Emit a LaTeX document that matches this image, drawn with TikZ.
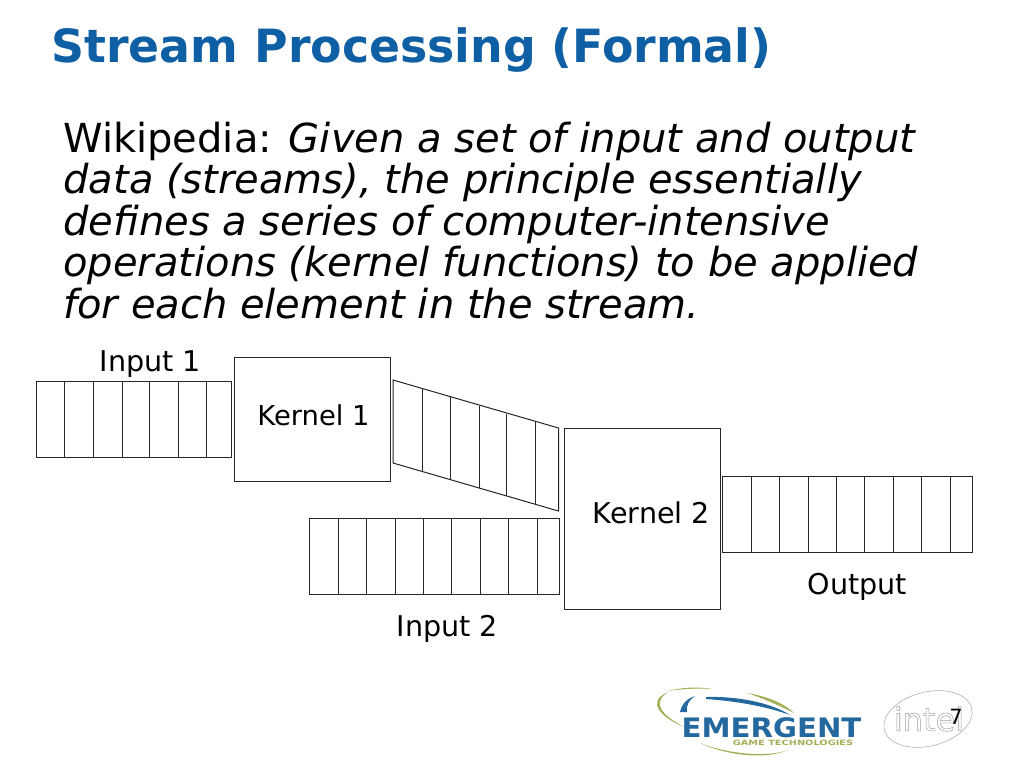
\documentclass[tikz,border=0pt]{standalone}
\usepackage{fontspec}
\setmainfont{DejaVu Sans}
\usepackage{tikz}
\usetikzlibrary{positioning,calc}
\definecolor{titleblue}{RGB}{15,95,165}
\definecolor{logoblue}{RGB}{35,105,160}
\definecolor{logoolive}{RGB}{165,175,85}
\newcommand{\outlinetext}[1]{\special{pdf:code q 1 Tr 0.25 w 0.62 0.62 0.62 RG}#1\special{pdf:code Q}}
\begin{document}
\begin{tikzpicture}[x=0.5pt,y=-0.5pt,
  lab/.style={font=\fontsize{14.3}{16}\selectfont,inner sep=0pt},
  kernel/.style={draw=black!85,line width=0.5pt,fill=white},
  cell/.style={draw=black!85,line width=0.5pt}]
\useasboundingbox[fill=white] (0,0) rectangle (1024,768);
% title and quoted text
\node[anchor=base west,inner sep=0pt,text=titleblue,font=\fontsize{22.9}{28}\selectfont\bfseries] (title) at (51,62) {Stream Processing (Formal)};
\node[anchor=base west,inner sep=0pt,align=left,font=\fontsize{20}{20.75}\selectfont] (body) at (63,318)
  {Wikipedia: \textit{Given a set of input and output}\\
   \textit{data (streams), the principle essentially}\\
   \textit{defines a series of computer-intensive}\\
   \textit{operations (kernel functions) to be applied}\\
   \textit{for each element in the stream.}};
% kernels
\node[kernel,minimum width=78pt,minimum height=62pt,inner sep=0pt] (kernA) at (312,419) {};
\node[kernel,minimum width=78pt,minimum height=90.5pt,inner sep=0pt] (kernB) at (642,518.5) {};
% streams
\draw[cell] (36,381) rectangle (231,457);
\foreach \x in {64.5,93,122,149.5,178,206.5}{\draw[cell] (\x,381)--(\x,457);}
\draw[cell] (393,380)--(558.5,428)--(558.5,511)--(393,463)--cycle;
\foreach \x/\t/\b in {422/389/471.5,450/397/480,479/405.5/488,506/413.5/496,535/421.5/504}{\draw[cell] (\x,\t)--(\x,\b);}
\draw[cell] (309.5,518) rectangle (559,594);
\foreach \x in {338,366,395,423,451,480,508,537}{\draw[cell] (\x,518)--(\x,594);}
\draw[cell] (722.5,476) rectangle (972,552);
\foreach \x in {751,779,808,836,864,893,921,950}{\draw[cell] (\x,476)--(\x,552);}
% labels
\node[lab] (inA) at (150.5,364) {Input 1};
\node[lab,font=\fontsize{13.7}{16}\selectfont] (kernAlab) at (313.5,415) {Kernel 1};
\node[lab] (kernBlab) at (651.5,513) {Kernel 2};
\node[lab] (outlab) at (857.5,587) {Output};
\node[lab] (inB) at (447.5,629) {Input 2};
% emergent logo
\fill[logoolive] (684,727) .. controls (662,718) and (645,702) .. (668,692) .. controls (650,704) and (664,716) .. (684,727);
\fill[logoolive] (668,691) .. controls (680,688) and (695,686) .. (712,689) .. controls (695,688) and (682,689) .. (668,691);
\fill[logoolive] (747,693) .. controls (770,697) and (785,704) .. (794,713) .. controls (780,706) and (765,699) .. (747,693);
\fill[logoolive] (700,743) .. controls (730,755) and (770,757) .. (788,750) .. controls (768,759) and (730,757) .. (700,743);
\fill[logoblue] (680,712) .. controls (682,703) and (688,698) .. (695,696) .. controls (689,700) and (686,705) .. (687,712)--cycle;
\fill[logoblue] (706,697) .. controls (735,696) and (770,702) .. (790,715) .. controls (765,706) and (735,701) .. (706,699)--cycle;
\node[anchor=base,inner sep=0pt,text=logoblue,font=\fontsize{13.4}{14}\selectfont\bfseries] (emergent) at (771.5,737) {\scalebox{1.09}[1]{EMERGENT}};
\node[anchor=base,inner sep=0pt,text=logoolive,font=\fontsize{3.6}{4}\selectfont\bfseries] (gametech) at (793,745.5) {\scalebox{1.36}[1]{GAME TECHNOLOGIES}};
% intel logo and page number
\draw[black!35,line width=0.25pt,rotate around={14:(928,719)}] (928,719) ellipse (45 and 27);
\node[anchor=center,inner sep=0pt,font=\fontsize{16}{18}\selectfont] (intel) at (929,719) {\outlinetext{intel}};
\node[inner sep=0pt,font=\fontsize{10.5}{12}\selectfont] (pagenum) at (956,717) {7};
\end{tikzpicture}
\end{document}
